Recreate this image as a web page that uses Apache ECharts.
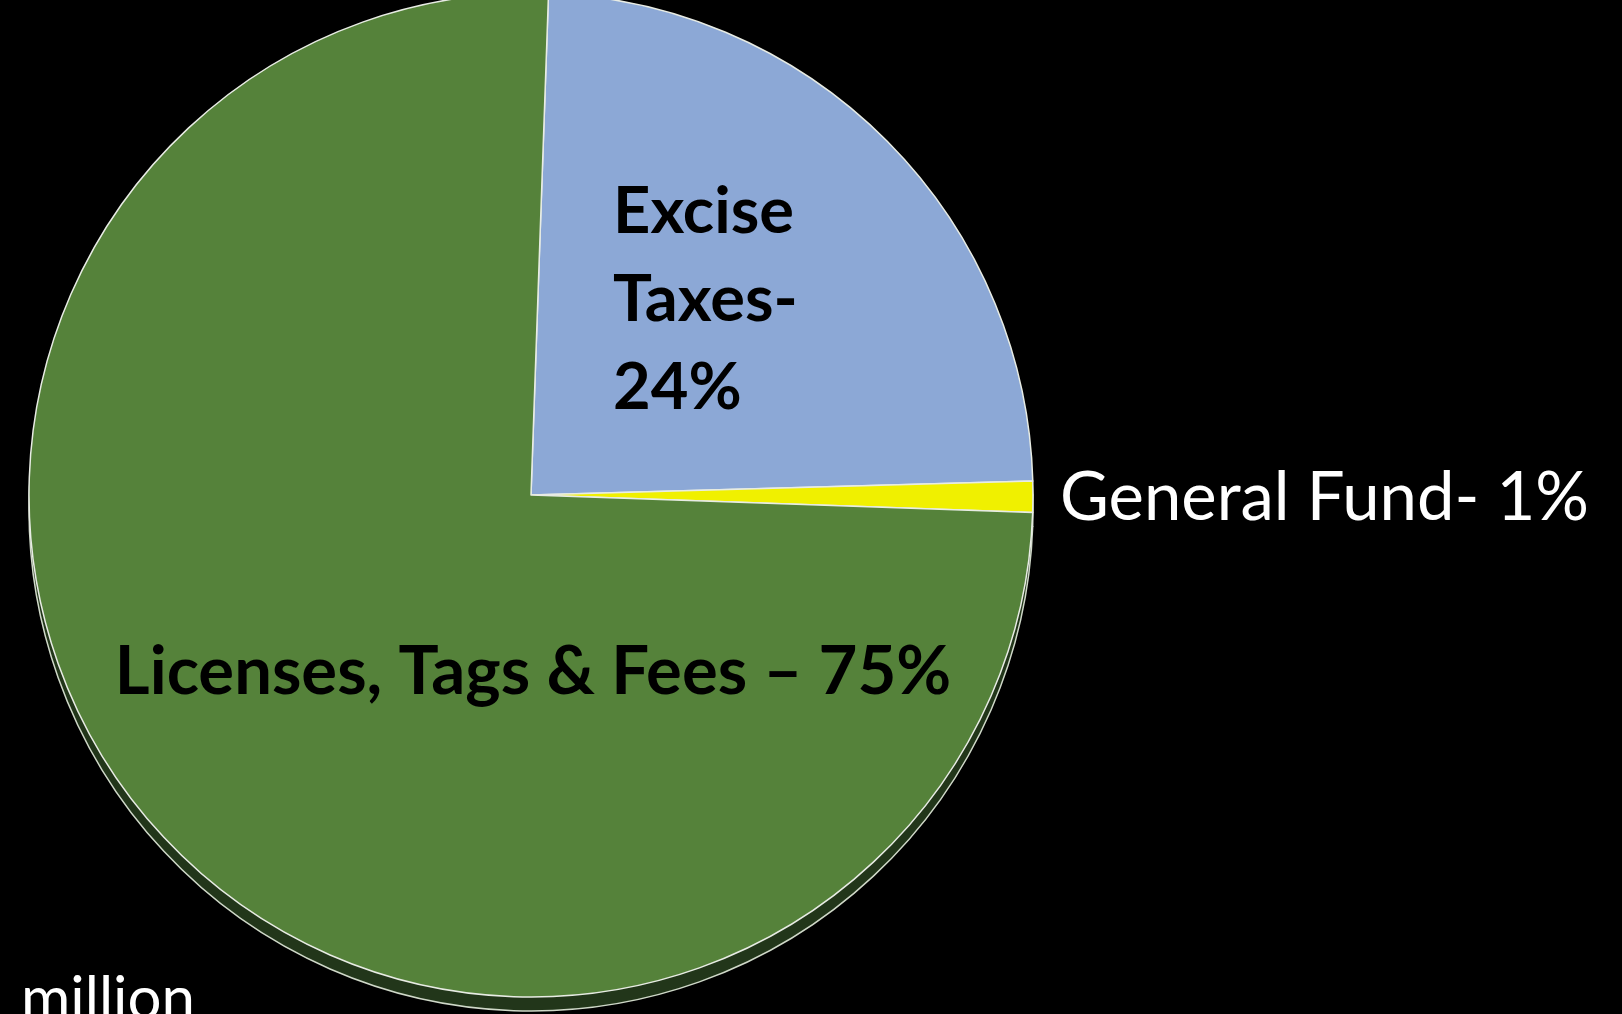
<!DOCTYPE html>
<html><head><meta charset="utf-8">
<script src="https://cdn.jsdelivr.net/npm/echarts@6/dist/echarts.min.js"></script>
<style>html,body{margin:0;padding:0;background:#000;}#c{width:1622px;height:1014px;}</style>
</head><body><div id="c"></div>
<script>
const categories = ['Excise Taxes-', 'General Fund-', 'Licenses, Tags & Fees –'];
const values = [24, 1, 75];
const sliceColors = ['#8CA8D6', '#F0F000', '#55823A'];
const footText = 'million';

const chart = echarts.init(document.getElementById('c'));
const cx = 531, cy = 495, R = 502;
const labelPos = [
  {x: 613, y: 300, align: 'left'},
  {x: 1060, y: 498, align: 'left'},
  {x: 533, y: 672, align: 'center'}
];
chart.setOption({
  backgroundColor: '#000',
  animation: false,
  graphic: [{type: 'text', left: 21, top: 970, style: {text: footText, fill: '#fff', font: '60px Lato'}}],
  series: [
    {
      type: 'pie', silent: true, center: [cx, cy + 14], radius: R, startAngle: 88, clockwise: true,
      z: 1,
      itemStyle: {color: '#22361A', borderColor: '#cfd8c8', borderWidth: 1.5},
      label: {show: false}, labelLine: {show: false},
      data: values.map((v, i) => ({value: v, name: categories[i]}))
    },
    {
      type: 'pie', center: [cx, cy], radius: R, startAngle: 88, clockwise: true,
      z: 2,
      itemStyle: {borderColor: '#e8ece4', borderWidth: 1.5},
      labelLine: {show: false},
      label: {show: true, position: 'inside'},
      labelLayout: function (p) {
        const lp = labelPos[p.dataIndex];
        return {x: lp.x, y: lp.y, align: lp.align, verticalAlign: 'middle'};
      },
      data: values.map((v, i) => {
        const base = {value: v, name: categories[i], itemStyle: {color: sliceColors[i]}};
        if (i === 0) base.label = {formatter: 'Excise\nTaxes-\n' + v + '%', color: '#000', fontWeight: 'bold', fontFamily: 'Lato', fontSize: 65, lineHeight: 88};
        else if (i === 1) base.label = {formatter: categories[i] + ' ' + v + '%', color: '#fff', fontWeight: 'normal', fontFamily: 'Lato', fontSize: 67};
        else base.label = {formatter: categories[i] + ' ' + v + '%', color: '#000', fontWeight: 'bold', fontFamily: 'Lato', fontSize: 67};
        return base;
      })
    }
  ]
});
</script></body></html>
